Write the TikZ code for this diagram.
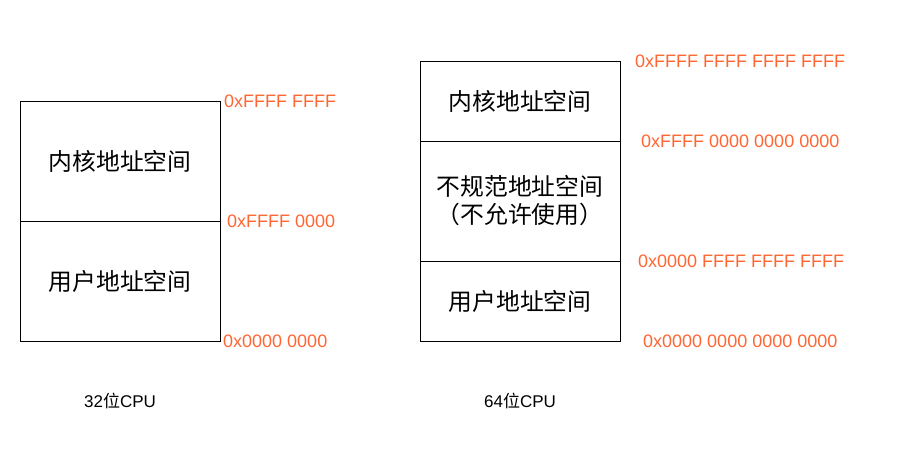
\documentclass[tikz,border=0pt]{standalone}
\usepackage{fontspec}
\setmainfont{Liberation Sans}
\newfontfamily\cjk{Noto Sans CJK SC}
\definecolor{addr}{HTML}{FF6633}
\begin{document}
\begin{tikzpicture}[x=1pt,y=-1pt,
  region/.style={draw=black,line width=1pt,minimum width=200pt,inner sep=0pt,font=\cjk\fontsize{23.8}{28}\selectfont,align=center},
  addrlbl/.style={anchor=west,inner sep=0pt,text=addr,font=\fontsize{18}{20}\selectfont},
  cpulbl/.style={inner sep=0pt,font=\fontsize{17}{19}\selectfont}]
\useasboundingbox (0,0) rectangle (899,456);
% 32-bit
\node[region,minimum height=120pt] (k32) at (120,161) {内核地址空间};
\node[region,minimum height=120pt] (u32) at (120,281) {用户地址空间};
\node[addrlbl] (a1) at (224,101) {0xFFFF FFFF};
\node[addrlbl] (a2) at (227,221) {0xFFFF 0000};
\node[addrlbl] (a3) at (223,341) {0x0000 0000};
\node[cpulbl] (c32) at (120,401) {32{\cjk 位}CPU};
% 64-bit
\node[region,minimum height=80pt] (k64) at (520,101) {内核地址空间};
\node[region,minimum height=120pt] (n64) at (520,201) {不规范地址空间\\（不允许使用）};
\node[region,minimum height=80pt] (u64) at (520,301) {用户地址空间};
\node[addrlbl] (b1) at (635,61) {0xFFFF FFFF FFFF FFFF};
\node[addrlbl] (b2) at (641,141) {0xFFFF 0000 0000 0000};
\node[addrlbl] (b3) at (638,261) {0x0000 FFFF FFFF FFFF};
\node[addrlbl] (b4) at (643,341) {0x0000 0000 0000 0000};
\node[cpulbl] (c64) at (520,401) {64{\cjk 位}CPU};
\end{tikzpicture}
\end{document}
